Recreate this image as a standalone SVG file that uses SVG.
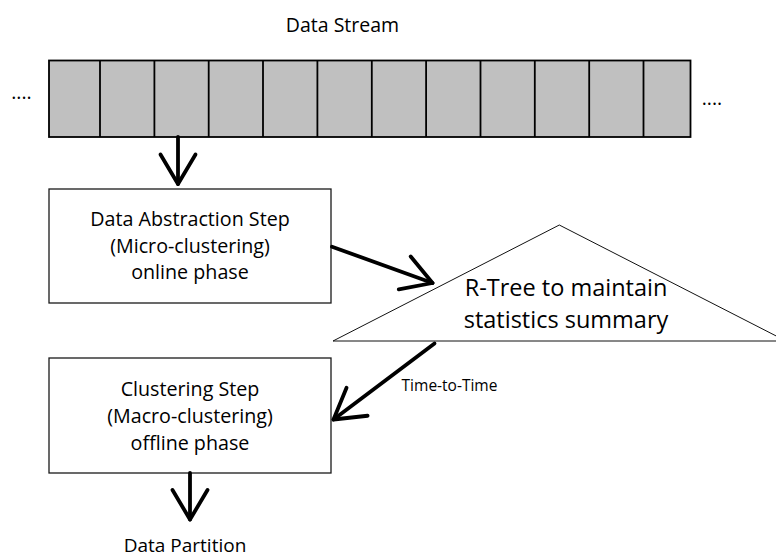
<svg xmlns="http://www.w3.org/2000/svg" width="776" height="560" viewBox="0 0 776 560">
  <defs>
    <style>
      .lbl { font-family: "Open Sans", "Liberation Sans", sans-serif; fill: #000; text-anchor: middle; }
      .box { fill: #fff; stroke: #1a1a1a; stroke-width: 1.3; }
      .cell { fill: #c0c0c0; stroke: #000; stroke-width: 1.8; }
      .div { stroke: #000; stroke-width: 1.8; }
      .tri { fill: #fff; stroke: #111; stroke-width: 1; }
      .edge { fill: none; stroke: #000; stroke-width: 3.8; stroke-linecap: round; marker-end: url(#vhead); }
    </style>
    <!-- open V arrowhead, drawn in user units so every arrow gets the same size -->
    <marker id="vhead" markerUnits="userSpaceOnUse" orient="auto" refX="0" refY="0"
            markerWidth="80" markerHeight="80" viewBox="-40 -40 80 80" overflow="visible">
      <path d="M -29.5,-17.5 L 0,0 L -29.5,17.5" fill="none" stroke="#000" stroke-width="3.8"
            stroke-linecap="round" stroke-linejoin="round"/>
    </marker>
  </defs>

  <rect width="776" height="560" fill="#fff"/>

  <!-- incoming data stream -->
  <g id="data-stream">
    <text class="lbl" x="342.5" y="32" font-size="19.5">Data Stream</text>
    <rect class="cell" x="49" y="60.5" width="641.5" height="76.5"/>
    <path class="div" d="M100,60.5V137M154.4,60.5V137M208.7,60.5V137M263,60.5V137M317.4,60.5V137M371.8,60.5V137M426.1,60.5V137M480.5,60.5V137M534.8,60.5V137M589.2,60.5V137M643.5,60.5V137"/>
    <text class="lbl" x="21.5" y="99" font-size="19.5">....</text>
    <text class="lbl" x="712" y="104.5" font-size="19.5">....</text>
  </g>

  <!-- online micro-clustering -->
  <g id="abstraction-step">
    <rect class="box" x="49" y="189" width="282" height="114"/>
    <text class="lbl" x="190" y="226" font-size="19.7">Data Abstraction Step</text>
    <text class="lbl" x="190" y="252.5" font-size="19.7">(Micro-clustering)</text>
    <text class="lbl" x="190" y="279" font-size="19.7">online phase</text>
  </g>

  <!-- R-tree summary structure -->
  <g id="rtree">
    <polygon class="tri" points="559.3,225 333,341 786,341"/>
    <text class="lbl" x="566" y="296" font-size="23.5">R-Tree to maintain</text>
    <text class="lbl" x="566" y="327.5" font-size="23.5">statistics summary</text>
  </g>

  <!-- offline macro-clustering -->
  <g id="clustering-step">
    <rect class="box" x="49" y="358" width="282" height="115"/>
    <text class="lbl" x="190" y="396" font-size="19.7">Clustering Step</text>
    <text class="lbl" x="190" y="423" font-size="19.7">(Macro-clustering)</text>
    <text class="lbl" x="190" y="450" font-size="19.7">offline phase</text>
  </g>

  <!-- result -->
  <g id="data-partition">
    <text class="lbl" x="185" y="552" font-size="19">Data Partition</text>
  </g>

  <!-- connectors -->
  <g id="connectors">
    <path class="edge" d="M178,137 L178,184"/>
    <path class="edge" d="M332,246.7 L432.5,283"/>
    <path class="edge" d="M434.5,343.5 L333.5,419.5"/>
    <path class="edge" d="M190,473 L190,519.5"/>
    <text x="449.5" y="391" font-family="Open Sans, Liberation Sans, sans-serif" font-size="15.5" text-anchor="middle">Time-to-Time</text>
  </g>
</svg>
